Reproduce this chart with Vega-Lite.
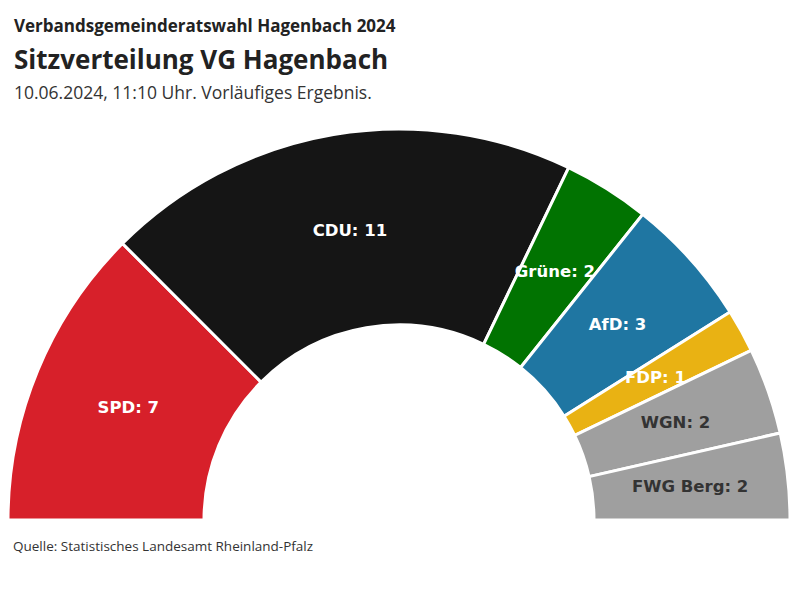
{
  "$schema": "https://vega.github.io/schema/vega-lite/v6.json",
  "background": "white",
  "padding": {"top": 17, "left": 2, "right": 8, "bottom": 0},
  "config": {
    "view": {"stroke": null},
    "concat": {"spacing": 11},
    "font": "Open Sans"
  },
  "title": {
    "text": "Verbandsgemeinderatswahl Hagenbach 2024",
    "anchor": "start",
    "dx": 12,
    "font": "Open Sans",
    "fontSize": 17,
    "fontWeight": "bold",
    "color": "#222222",
    "offset": 12
  },
  "datasets": {
    "seats": [
      {"idx": 1, "party": "SPD", "seats": 7},
      {"idx": 2, "party": "CDU", "seats": 11},
      {"idx": 3, "party": "Grüne", "seats": 2},
      {"idx": 4, "party": "AfD", "seats": 3},
      {"idx": 5, "party": "FDP", "seats": 1},
      {"idx": 6, "party": "WGN", "seats": 2},
      {"idx": 7, "party": "FWG Berg", "seats": 2}
    ],
    "source": [{"text": "Quelle: Statistisches Landesamt Rheinland-Pfalz"}]
  },
  "vconcat": [
    {
      "title": {
        "text": "Sitzverteilung VG Hagenbach",
        "subtitle": "10.06.2024, 11:10 Uhr. Vorläufiges Ergebnis.",
        "anchor": "start",
        "dx": 12,
        "font": "Open Sans",
        "fontSize": 26,
        "fontWeight": "bold",
        "color": "#222222",
        "subtitleFont": "Open Sans",
        "subtitleFontSize": 17.5,
        "subtitleColor": "#333333",
        "subtitlePadding": 11,
        "offset": 21
      },
      "width": 784,
      "height": 391,
      "data": {"name": "seats"},
      "encoding": {
        "theta": {
          "field": "seats",
          "type": "quantitative",
          "stack": true,
          "scale": {"range": [-1.5707963, 1.5707963]}
        },
        "order": {"field": "idx", "type": "quantitative"}
      },
      "layer": [
        {
          "mark": {
            "type": "arc",
            "innerRadius": 195,
            "outerRadius": 391,
            "y": "height",
            "stroke": "white",
            "strokeWidth": 3
          },
          "encoding": {
            "color": {
              "field": "party",
              "type": "nominal",
              "legend": null,
              "scale": {
                "domain": ["SPD", "CDU", "Grüne", "AfD", "FDP", "WGN", "FWG Berg"],
                "range": ["#d7202a", "#151515", "#017301", "#1f76a2", "#e9b213", "#9f9f9f", "#9f9f9f"]
              }
            }
          }
        },
        {
          "transform": [{"calculate": "datum.party + ': ' + datum.seats", "as": "label"}],
          "mark": {
            "type": "text",
            "radius": 293,
            "y": "height",
            "font": "DejaVu Sans",
            "fontSize": 16.5,
            "fontWeight": "bold",
            "align": "center",
            "baseline": "middle"
          },
          "encoding": {
            "text": {"field": "label", "type": "nominal"},
            "color": {
              "condition": {"test": "datum.party === 'WGN' || datum.party === 'FWG Berg'", "value": "#333333"},
              "value": "white"
            }
          }
        }
      ]
    },
    {
      "width": 784,
      "height": 20,
      "data": {"name": "source"},
      "mark": {
        "type": "text",
        "align": "left",
        "baseline": "middle",
        "x": 6,
        "font": "Open Sans",
        "fontSize": 13.5,
        "color": "#333333"
      },
      "encoding": {"text": {"field": "text", "type": "nominal"}}
    }
  ]
}
